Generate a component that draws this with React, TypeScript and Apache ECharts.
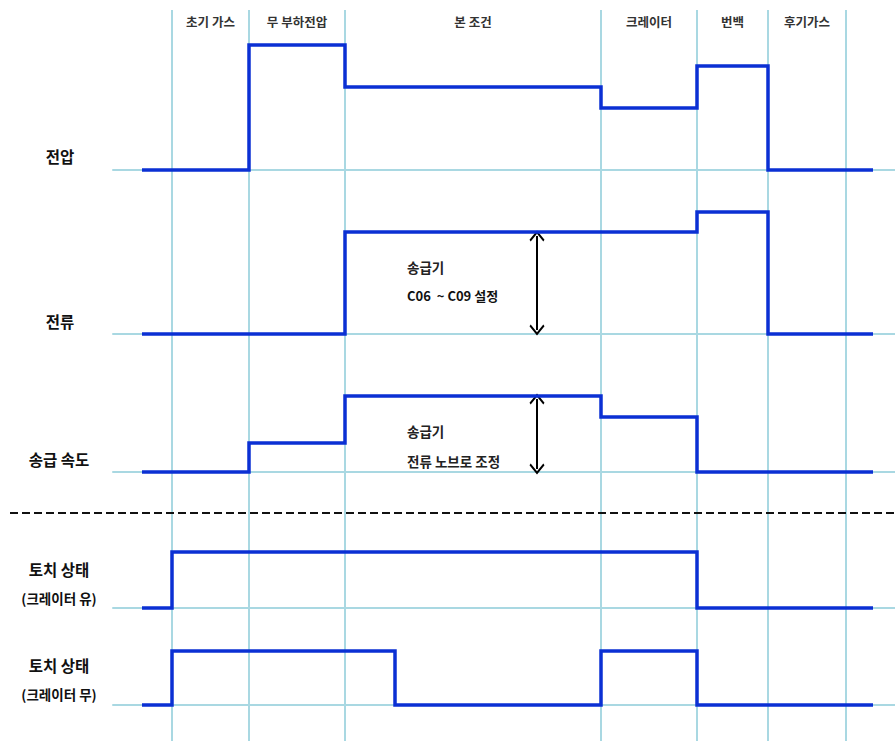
import React, { useEffect, useRef } from "react";
import * as echarts from "echarts";

// Phase boundaries (time units) and names
const phaseNames = ["초기 가스", "무 부하전압", "본 조건", "크레이터", "번백", "후기가스"];
const phaseBounds = [3.0, 10.7, 20.3, 45.9, 55.5, 62.6, 70.4];
const tMin = -2.9;
const tMax = 75.3;

// Signals: [time, level] step points (level holds until next time)
const voltage = [[0, 0], [10.7, 125], [20.3, 83], [45.9, 62], [55.5, 104], [62.6, 0], [73.1, 0]];
const current = [[0, 0], [20.3, 102], [55.5, 122], [62.6, 0], [73.1, 0]];
const feedSpeed = [[0, 0], [10.7, 29], [20.3, 76], [45.9, 55], [55.5, 0], [73.1, 0]];
const torchCrater = [[0, 0], [3.0, 56], [55.5, 0], [73.1, 0]];
const torchNoCrater = [[0, 0], [3.0, 54], [25.3, 0], [45.9, 54], [55.5, 0], [73.1, 0]];

const rowLabels = ["전압", "전류", "송급 속도"];
const arrowT = 39.5;
const currentArrow = [4, 98];
const speedArrow = [3, 73];

const FONT = '"Noto Sans CJK KR", "Noto Sans", sans-serif';
const GUIDE = "#a9d8e2";
const SIGNAL = "#0b30d4";
const CHEVRON = "path://M0,0 L10,9 L8.4,10.6 L0,3.2 L-8.4,10.6 L-10,9 Z";

export default function App() {
  const ref = useRef<HTMLDivElement>(null);
  useEffect(() => {
    if (!ref.current) return;
    const chart = echarts.init(ref.current, undefined, { renderer: "svg" });
    const rows = [
      { top: 40, height: 130, max: 130, data: voltage },
      { top: 204, height: 130, max: 130, data: current },
      { top: 342, height: 130, max: 130, data: feedSpeed },
      { top: 548, height: 60, max: 60, data: torchCrater },
      { top: 645, height: 60, max: 60, data: torchNoCrater },
    ];
    const grids: any[] = rows.map((r) => ({ left: 113, right: 0, top: r.top, height: r.height }));
    grids.push({ left: 113, right: 0, top: 10, bottom: 0 });
    const xAxes: any[] = grids.map((_, i) => ({
      type: "value",
      gridIndex: i,
      min: tMin,
      max: tMax,
      axisLine: { show: i < rows.length, onZero: false, lineStyle: { color: GUIDE, width: 2 } },
      axisTick: { show: false },
      axisLabel: { show: false },
      splitLine: { show: false },
    }));
    const yAxes: any[] = grids.map((_, i) => ({
      type: "value",
      gridIndex: i,
      min: 0,
      max: i < rows.length ? rows[i].max : 1,
      show: false,
      splitLine: { show: false },
    }));
    const series: any[] = rows.map((r, i) => ({
      type: "line",
      xAxisIndex: i,
      yAxisIndex: i,
      data: r.data,
      step: "end",
      symbol: "none",
      clip: false,
      z: 5,
      lineStyle: { color: SIGNAL, width: 3.5, join: "miter" },
    }));
    const arrowLine = (range: number[]) => ({
      silent: true,
      symbol: [CHEVRON, CHEVRON],
      symbolSize: [15, 11],
      symbolOffset: [0, 0],
      label: { show: false },
      lineStyle: { color: "#000", width: 2, type: "solid" },
      data: [[{ coord: [arrowT, range[0]] }, { coord: [arrowT, range[1]] }]],
    });
    series[1].markLine = arrowLine(currentArrow);
    series[2].markLine = arrowLine(speedArrow);
    series.push({
      type: "line",
      xAxisIndex: rows.length,
      yAxisIndex: rows.length,
      data: [],
      z: 1,
      markLine: {
        silent: true,
        symbol: ["none", "none"],
        label: { show: false },
        lineStyle: { color: GUIDE, width: 2, type: "solid" },
        data: phaseBounds.map((b) => ({ xAxis: b })),
      },
      markArea: {
        silent: true,
        itemStyle: { color: "rgba(0,0,0,0)" },
        label: {
          show: true,
          position: "insideTop",
          distance: 5,
          color: "#333",
          fontSize: 12.5,
          fontWeight: "bold",
          fontFamily: FONT,
        },
        data: phaseNames.map((n, i) => [
          { name: n, xAxis: phaseBounds[i] },
          { xAxis: phaseBounds[i + 1] },
        ]),
      },
    });

    const txt = (text: string, x: number, y: number, size: number, align = "center", weight = "bold", color = "#111") => ({
      type: "text",
      x,
      y,
      style: {
        text,
        fill: color,
        font: `${weight} ${size}px ${FONT}`,
        textAlign: align,
        textVerticalAlign: "middle",
      },
    });

    chart.setOption({
      animation: false,
      backgroundColor: "#fff",
      grid: grids,
      xAxis: xAxes,
      yAxis: yAxes,
      series,
      graphic: [
        txt(rowLabels[0], 60, 156, 15.5),
        txt(rowLabels[1], 60, 321, 15.5),
        txt(rowLabels[2], 59, 459, 15.5),
        txt("토치 상태", 59, 569, 15.5),
        txt("(크레이터 유)", 59, 598, 13.5),
        txt("토치 상태", 59, 665, 15.5),
        txt("(크레이터 무)", 59, 694, 13.5),
        txt("송급기", 407, 267, 13.5, "left", "bold", "#222"),
        txt("C06  ~ C09 설정", 407, 295, 13, "left", "bold", "#111"),
        txt("송급기", 407, 431, 13.5, "left", "bold", "#222"),
        txt("전류 노브로 조정", 407, 461, 13.5, "left", "bold", "#222"),
        {
          type: "line",
          shape: { x1: 10, y1: 513, x2: 895, y2: 513 },
          z: 10,
          style: { stroke: "#111", lineWidth: 2, lineDash: [8, 4] },
        },
      ],
    });
    return () => chart.dispose();
  }, []);
  return (
    <div
      ref={ref}
      style={{ position: "fixed", left: 0, top: 0, width: 895, height: 741, background: "#fff" }}
    />
  );
}
